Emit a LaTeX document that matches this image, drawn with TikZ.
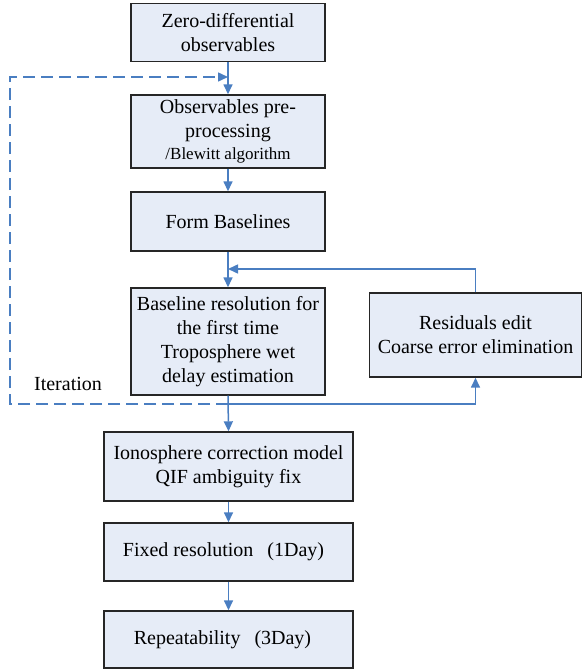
\documentclass[tikz,border=0pt]{standalone}
\usepackage{fontspec}
\setmainfont{Liberation Serif}
\usetikzlibrary{arrows.meta}
\definecolor{boxfill}{HTML}{E6ECF7}
\definecolor{flow}{HTML}{4A7EC1}
\begin{document}
\begin{tikzpicture}[x=1pt,y=-1pt,
  box/.style={draw=black!85,line width=1.4pt,fill=boxfill,inner sep=0pt,align=center,
    font=\fontsize{20}{24}\selectfont},
  flowline/.style={draw=flow,line width=1.5pt},
  arr/.style={flowline,-{Triangle[length=10pt,width=9pt]}},
  dsh/.style={flowline,dash pattern=on 12pt off 6pt}]
\useasboundingbox (0,0) rectangle (583,669);
\node[box,minimum width=194pt,minimum height=58pt] (b1) at (228,32.5) {Zero-differential\\observables};
\node[box,minimum width=194pt,minimum height=73pt] (b2) at (228,131.5) {Observables pre-\\processing\\[-2pt]{\fontsize{17}{20}\selectfont /Blewitt algorithm}};
\node[box,minimum width=194pt,minimum height=59pt] (b3) at (228,221.5) {Form Baselines};
\node[box,minimum width=194pt,minimum height=107pt] (b4) at (228,341.5) {Baseline resolution for\\the first time\\Troposphere wet\\delay estimation};
\node[box,minimum width=212pt,minimum height=84pt] (b5) at (475.5,335) {Residuals edit\\Coarse error elimination};
\node[box,minimum width=249pt,minimum height=69pt] (b6) at (228.5,466.5) {Ionosphere correction model\\QIF ambiguity fix};
\node[box,minimum width=249pt,minimum height=58pt] (b7) at (228.5,552) {\hspace*{-10pt}Fixed resolution\hspace{14pt}(1Day)};
\node[box,minimum width=249pt,minimum height=57pt] (b8) at (228.5,639.5) {\hspace*{-12pt}Repeatability\hspace{14pt}(3Day)};
\node[font=\fontsize{20}{24}\selectfont,inner sep=0pt] (it) at (68,384) {Iteration};
\coordinate (j) at (228,404);
\coordinate (fb) at (228,269);
\coordinate (top) at (228,77);
\draw[arr] (b1.south) -- (b2.north);
\draw[arr] (b2.south) -- (b3.north);
\draw[arr] (b3.south) -- (b4.north);
\draw[arr] (b5.north) |- (fb);
\draw[arr] (b4.south) -- (b6.north);
\draw[arr] (j) -| (b5.south);
\draw[dsh,-{Triangle[length=10pt,width=9pt]}] (j) -- (10,404) -- (10,77) -- (top);
\draw[arr] (b6.south) -- (b7.north);
\draw[arr] (b7.south) -- (b8.north);
\end{tikzpicture}
\end{document}
